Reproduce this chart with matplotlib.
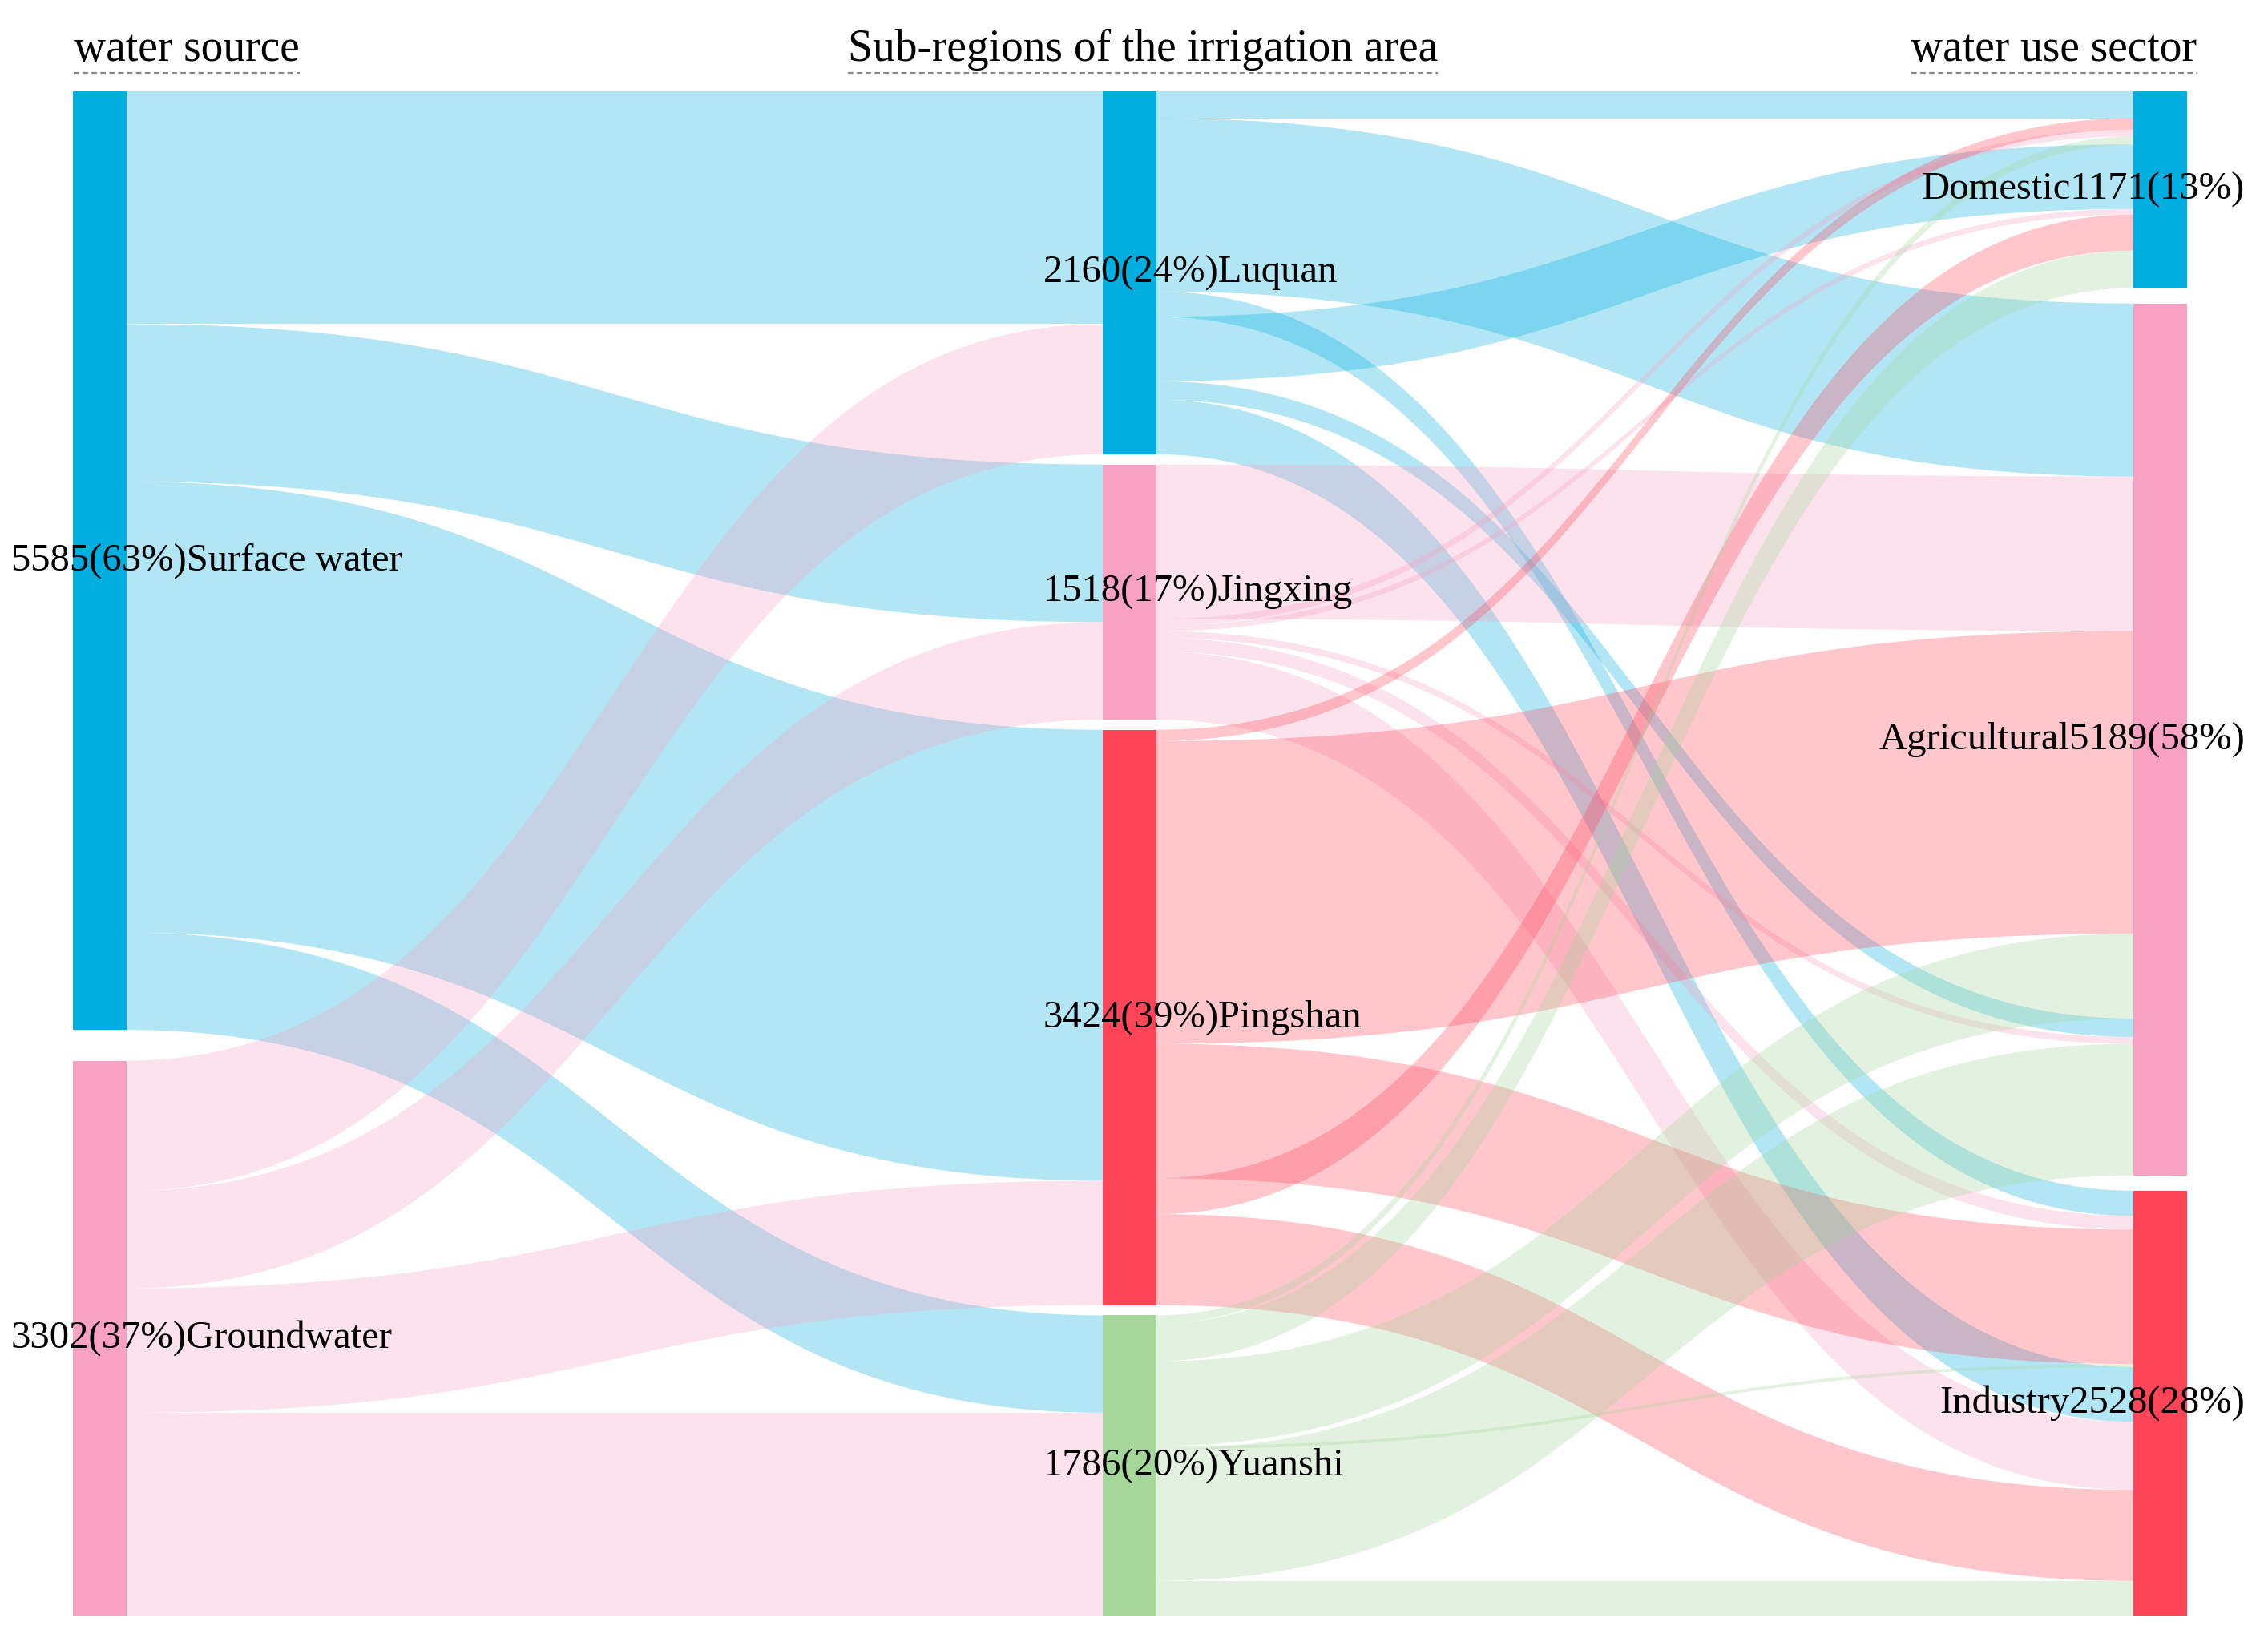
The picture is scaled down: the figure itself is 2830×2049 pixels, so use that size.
import matplotlib
matplotlib.use("Agg")
import matplotlib.pyplot as plt
import numpy as np
from matplotlib.patches import Rectangle

# ---- data ----
sources = ["Surface water", "Groundwater"]
source_values = [5585, 3302]
source_shares = [63, 37]

regions = ["Luquan", "Jingxing", "Pingshan", "Yuanshi"]
region_values = [2160, 1518, 3424, 1786]
region_shares = [24, 17, 39, 20]

sectors = ["Domestic", "Agricultural", "Industry"]
sector_values = [1171, 5189, 2528]
sector_shares = [13, 58, 28]

# water source -> sub-region
surface_to_region = [1385, 938, 2683, 579]
ground_to_region = [775, 580, 740, 1207]

# sub-region -> sector, in the order the bands leave each sub-region
use_links = [
    ("Luquan", "Domestic", 161), ("Luquan", "Agricultural", 1030),
    ("Luquan", "Industry", 150), ("Luquan", "Domestic", 384),
    ("Luquan", "Agricultural", 110), ("Luquan", "Industry", 325),
    ("Jingxing", "Agricultural", 919), ("Jingxing", "Domestic", 40),
    ("Jingxing", "Domestic", 33), ("Jingxing", "Agricultural", 40),
    ("Jingxing", "Industry", 81), ("Jingxing", "Industry", 405),
    ("Pingshan", "Domestic", 67), ("Pingshan", "Agricultural", 1801),
    ("Pingshan", "Industry", 800), ("Pingshan", "Domestic", 214),
    ("Pingshan", "Industry", 542),
    ("Yuanshi", "Domestic", 48), ("Yuanshi", "Domestic", 224),
    ("Yuanshi", "Agricultural", 505), ("Yuanshi", "Industry", 19),
    ("Yuanshi", "Agricultural", 784), ("Yuanshi", "Industry", 206),
]
# order in which those bands arrive at each sector (indices into use_links)
arrival_order = {
    "Domestic": [0, 12, 7, 17, 3, 8, 15, 18],
    "Agricultural": [1, 6, 13, 19, 4, 9, 21],
    "Industry": [2, 10, 14, 20, 5, 11, 16, 22],
}

headers = ["water source", "Sub-regions of the irrigation area", "water use sector"]

source_colors = ["#00aee0", "#f8a1c2"]
region_colors = ["#00aee0", "#f8a1c2", "#ff4458", "#a5d69a"]
sector_colors = ["#00aee0", "#f8a1c2", "#ff4458"]

# ---- layout (pixels) ----
W, H = 2830, 2049
TOP, BOTTOM = 114, 2016
COL_X = [91, 1376, 2662]
BAR_W = 67
K = 0.2097  # pixels per unit
FONT = "Liberation Serif"


def node_tops(values):
    gap = (BOTTOM - TOP - sum(values) * K) / (len(values) - 1)
    tops, y = [], TOP
    for v in values:
        tops.append(y)
        y += v * K + gap
    return tops


def band(ax, x0, x1, y0, y1, h, color):
    t = np.linspace(0, 1, 120)
    xm = (x0 + x1) / 2
    bx = (1 - t) ** 3 * x0 + 3 * (1 - t) ** 2 * t * xm + 3 * (1 - t) * t ** 2 * xm + t ** 3 * x1
    by = (1 - t) ** 3 * y0 + 3 * (1 - t) ** 2 * t * y0 + 3 * (1 - t) * t ** 2 * y1 + t ** 3 * y1
    ax.fill(np.r_[bx, bx[::-1]], np.r_[by, by[::-1] + h],
            color=color, alpha=0.3, lw=0, zorder=1)


fig = plt.figure(figsize=(W / 100, H / 100), dpi=100)
ax = fig.add_axes([0, 0, 1, 1])
ax.set_xlim(0, W)
ax.set_ylim(H, 0)
ax.axis("off")

src_top = node_tops(source_values)
reg_top = node_tops(region_values)
sec_top = node_tops(sector_values)

# source -> region bands
src_off = list(src_top)
reg_in = list(reg_top)
for i, flows in enumerate([surface_to_region, ground_to_region]):
    for j, v in enumerate(flows):
        h = v * K
        band(ax, COL_X[0] + BAR_W, COL_X[1], src_off[i], reg_in[j], h, source_colors[i])
        src_off[i] += h
        reg_in[j] += h

# region -> sector bands
reg_out = {r: reg_top[j] for j, r in enumerate(regions)}
link_start = []
for r, s, v in use_links:
    link_start.append(reg_out[r])
    reg_out[r] += v * K
link_end = [0] * len(use_links)
for k_, s in enumerate(sectors):
    y = sec_top[k_]
    for idx in arrival_order[s]:
        link_end[idx] = y
        y += use_links[idx][2] * K
for idx, (r, s, v) in enumerate(use_links):
    band(ax, COL_X[1] + BAR_W, COL_X[2], link_start[idx], link_end[idx], v * K,
         region_colors[regions.index(r)])

# nodes
columns = [
    (source_values, source_colors, src_top, COL_X[0]),
    (region_values, region_colors, reg_top, COL_X[1]),
    (sector_values, sector_colors, sec_top, COL_X[2]),
]
for values, colors, tops, x in columns:
    for v, c, y in zip(values, colors, tops):
        ax.add_patch(Rectangle((x, y), BAR_W, v * K, color=c, lw=0, zorder=2))

# labels
LSIZE = 35
for name, v, p, y in zip(sources, source_values, source_shares, src_top):
    ax.text(14, y + v * K / 2, f"{v}({p}%){name}", ha="left", va="center",
            fontsize=LSIZE, family=FONT, zorder=3)
for name, v, p, y in zip(regions, region_values, region_shares, reg_top):
    ax.text(1302, y + v * K / 2, f"{v}({p}%){name}", ha="left", va="center",
            fontsize=LSIZE, family=FONT, zorder=3)
for name, v, p, y in zip(sectors, sector_values, sector_shares, sec_top):
    ax.text(2801, y + v * K / 2, f"{name}{v}({p}%)", ha="right", va="center",
            fontsize=LSIZE, family=FONT, zorder=3)

# column headers with dashed underline
fig.canvas.draw()
renderer = fig.canvas.get_renderer()
inv = ax.transData.inverted()
for text, cx in zip(headers, [233, 1426, 2563]):
    t = ax.text(cx, 62, text, ha="center", va="center", fontsize=40,
                family=FONT, zorder=3)
    bb = t.get_window_extent(renderer)
    (x0, _), (x1, _) = inv.transform([(bb.x0, bb.y0), (bb.x1, bb.y1)])
    ax.plot([x0, x1], [91, 91], color="#888888", lw=1.6, ls=(0, (3, 2)), zorder=3)

fig.savefig("out.png", dpi=100)
